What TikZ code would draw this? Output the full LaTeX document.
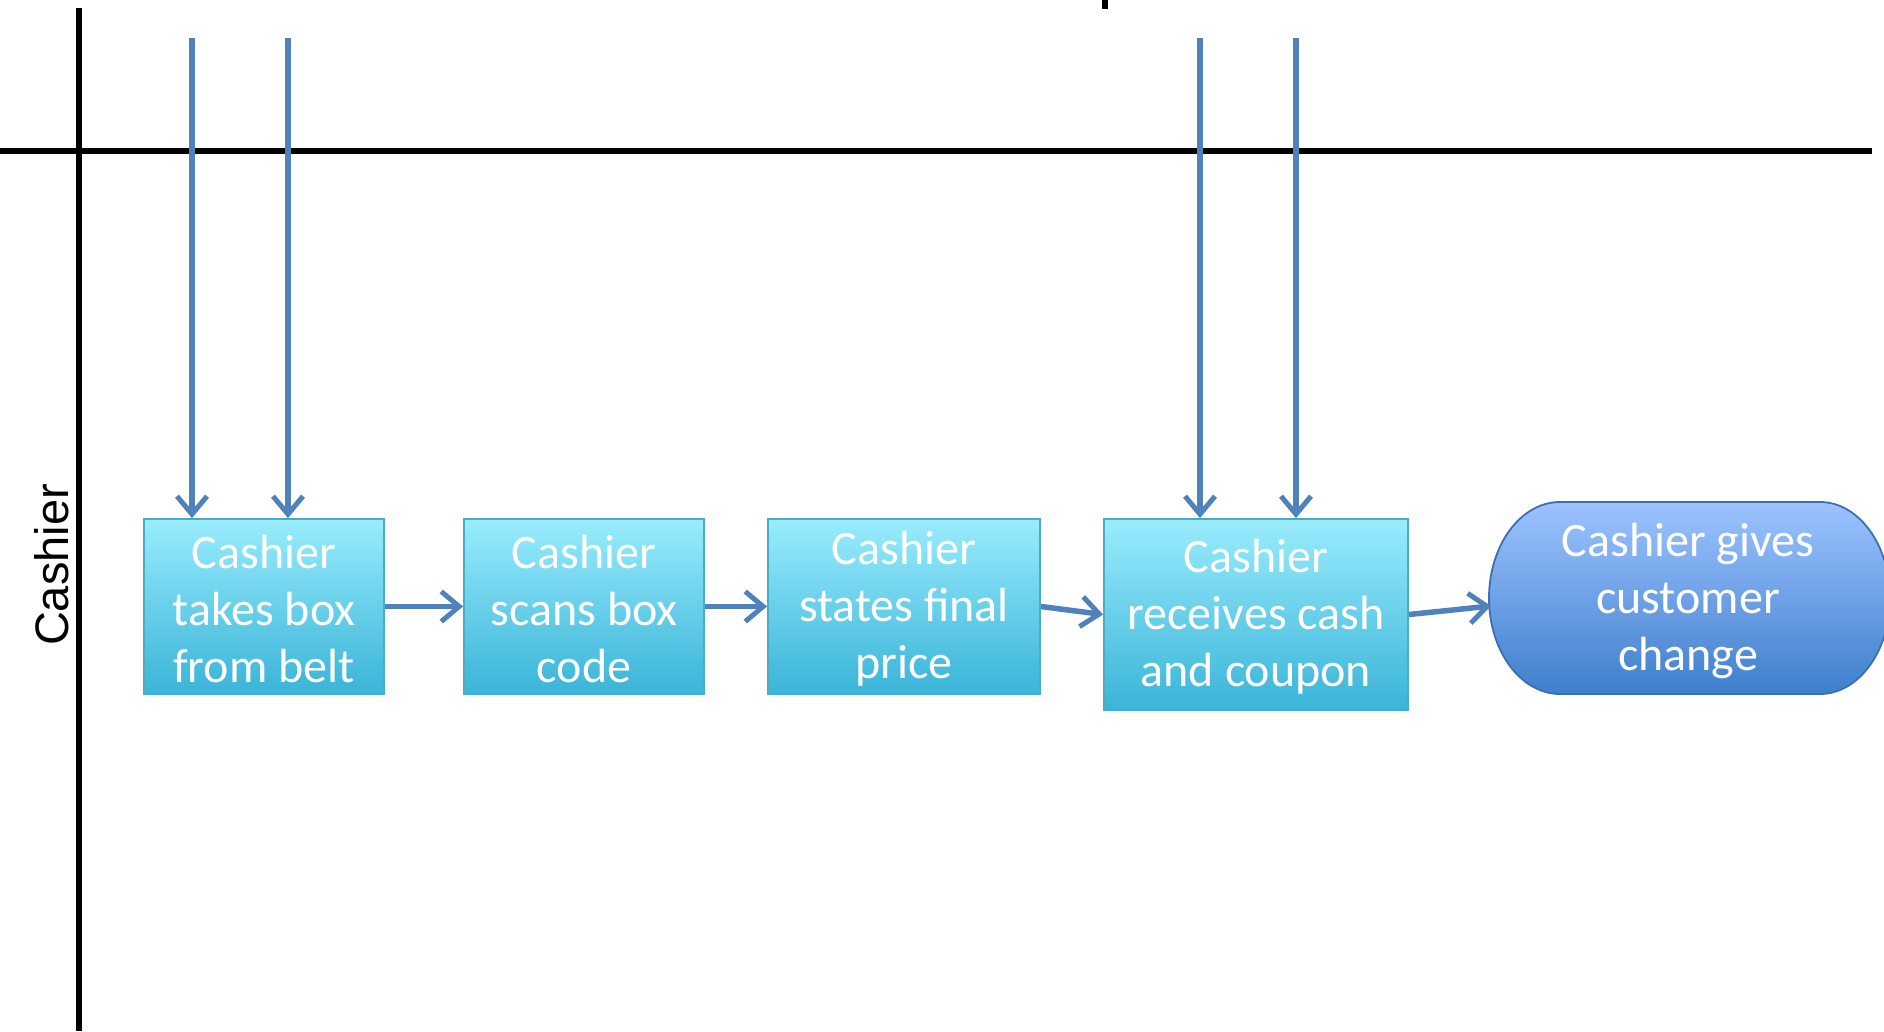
\documentclass[tikz,border=0pt]{standalone}
\usepackage{fontspec}
\setmainfont{Carlito}
\newfontfamily\arialfont{Liberation Sans}
\usetikzlibrary{arrows.meta}
\definecolor{flowblue}{HTML}{4F81BD}
\definecolor{boxtop}{HTML}{99ECFD}
\definecolor{boxbot}{HTML}{3AB4D8}
\definecolor{boxedge}{HTML}{4BACC6}
\definecolor{ovtop}{HTML}{9DC3FF}
\definecolor{ovbot}{HTML}{3E7FCC}
\definecolor{ovedge}{HTML}{3C6FB0}
\tikzset{
  lane/.style={line width=5.5pt, black},
  flow/.style={line width=5.5pt, flowblue, -{Straight Barb[length=18pt,width=30pt,line width=5pt]}},
  stepbox/.style={draw=boxedge, line width=1.8pt, top color=boxtop, bottom color=boxbot,
    inner sep=0pt, text=white, align=center, font=\fontsize{48}{57}\selectfont},
  ovaltext/.style={inner sep=0pt, text=white, align=center, font=\fontsize{48}{57}\selectfont},
}
\begin{document}
\begin{tikzpicture}[x=1pt,y=-1pt]
\path[use as bounding box, clip] (0,0) rectangle (1884,1031);
% lanes
\coordinate (vtop) at (79,8);
\coordinate (vbot) at (79,1031);
\coordinate (hl) at (0,151);
\coordinate (hr) at (1872,151);
\coordinate (mt) at (1105,0);
\coordinate (mb) at (1105,9);
\draw[lane] (vtop) -- (vbot);
\draw[lane] (hl) -- (hr);
\draw[lane] (mt) -- (mb);
\node[rotate=90, font=\arialfont\fontsize{47}{55}\selectfont] (lbl) at (52,565) {Cashier};
% boxes
\node[stepbox, minimum width=240pt, minimum height=175pt] (b1) at (264,606.5) {};
\node[stepbox, minimum width=240pt, minimum height=175pt] (b2) at (584,606.5) {};
\node[stepbox, minimum width=272pt, minimum height=175pt] (b3) at (904,606.5) {};
\node[stepbox, minimum width=304pt, minimum height=191pt] (b4) at (1256,614.5) {};
\node[ovaltext] (b1t) at (264,609) {Cashier\\takes box\\from belt};
\node[ovaltext] (b2t) at (584,609) {Cashier\\scans box\\code};
\node[ovaltext] (b3t) at (904,609) {Cashier\\states final\\price};
\node[ovaltext] (b4t) at (1256,617) {Cashier\\receives cash\\and coupon};
% terminal shape
\shade[top color=ovtop, bottom color=ovbot, draw=ovedge, line width=1.8pt]
  (1560,502) -- (1820,502) arc[start angle=-90, end angle=90, x radius=70, y radius=96]
  -- (1560,694) arc[start angle=90, end angle=270, x radius=71, y radius=96] -- cycle;
\node[ovaltext] (b5) at (1688,601) {Cashier gives\\customer\\change};
\coordinate (b5w) at (1491,606);
% arrows into boxes
\coordinate (t1) at (192,38);
\coordinate (t2) at (288,38);
\coordinate (t3) at (1200,38);
\coordinate (t4) at (1296,38);
\draw[flow] (t1) -- (t1 |- b1.north);
\draw[flow] (t2) -- (t2 |- b1.north);
\draw[flow] (t3) -- (t3 |- b4.north);
\draw[flow] (t4) -- (t4 |- b4.north);
% flow between boxes
\draw[flow] (b1.east) -- (b2.west);
\draw[flow] (b2.east) -- (b3.west);
\draw[flow] (b3.east) -- (b4.west);
\draw[flow] (b4.east) -- (b5w);
\end{tikzpicture}
\end{document}
